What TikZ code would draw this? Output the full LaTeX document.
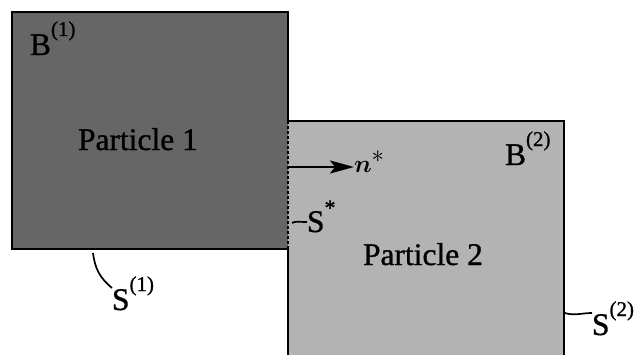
\documentclass[tikz,border=0pt]{standalone}
\usepackage{fontspec}
\usepackage{amsmath,bm}
\setmainfont[FakeBold=1,AutoFakeBold=1]{Liberation Serif}
\usetikzlibrary{arrows.meta}
\definecolor{darkbox}{HTML}{666666}
\definecolor{lightbox}{HTML}{B3B3B3}
\newcommand{\supx}[1]{\raisebox{19pt}{\fontsize{21}{20}\selectfont\bfseries #1}}
\tikzset{
  edge/.style={line width=2.5pt, black},
  lbl/.style={anchor=base west, inner sep=0pt, outer sep=0pt, font=\fontsize{31.5}{32}\selectfont},
  leader/.style={line width=1.7pt, black},
  iface/.style={line width=1.9pt, black, dash pattern=on 3pt off 2pt}
}
\begin{document}
\begin{tikzpicture}[x=1pt,y=1pt]
\useasboundingbox (0,0) rectangle (636,354);
% box 2
\fill[lightbox] (288,-10) rectangle (564,233);
\draw[edge] (288,-10) -- (288,105);
\draw[edge] (288,233) -- (564,233) -- (564,-10);
% box 1
\fill[darkbox] (12,105) rectangle (288,342);
\draw[edge] (288,233) -- (288,342) -- (12,342) -- (12,105) -- (289,105);
\draw[iface] (288,233) -- (288,105);
% labels
\node[lbl] (b1) at (30,299) {B\supx{(1)}};
\node[lbl] (p1) at (78,204) {Particle 1};
\node[lbl] (b2) at (505,189) {B\supx{(2)}};
\node[lbl] (p2) at (363,89) {Particle 2};
\node[lbl] (ss) at (307,122) {S\raisebox{17pt}{\fontsize{22}{22}\selectfont\bfseries *}};
\node[lbl] (s1) at (112,44) {S\supx{(1)}};
\node[lbl] (s2) at (592,19) {S\supx{(2)}};
\node[lbl, font=\fontsize{37}{37}\selectfont] (n) at (354,182) {$\bm{n}^{*}$};
% connectors
\coordinate (a0) at (289,187);
\draw[line width=2.4pt, -{Stealth[length=24pt,width=13pt,inset=5pt]}] (a0) -- (n.west |- a0);
\coordinate (l1) at (93,101);
\draw[leader] (l1) .. controls (95,85) and (100,76) .. (s1.west |- 0,66);
\coordinate (l2) at (565,41);
\draw[leader] (l2) .. controls (574,38) and (582,41) .. (s2.west |- 0,41);
\coordinate (l3) at (292,131);
\draw[leader] (l3) .. controls (295,133) and (299,132) .. (ss.west |- 0,132);
\end{tikzpicture}
\end{document}
